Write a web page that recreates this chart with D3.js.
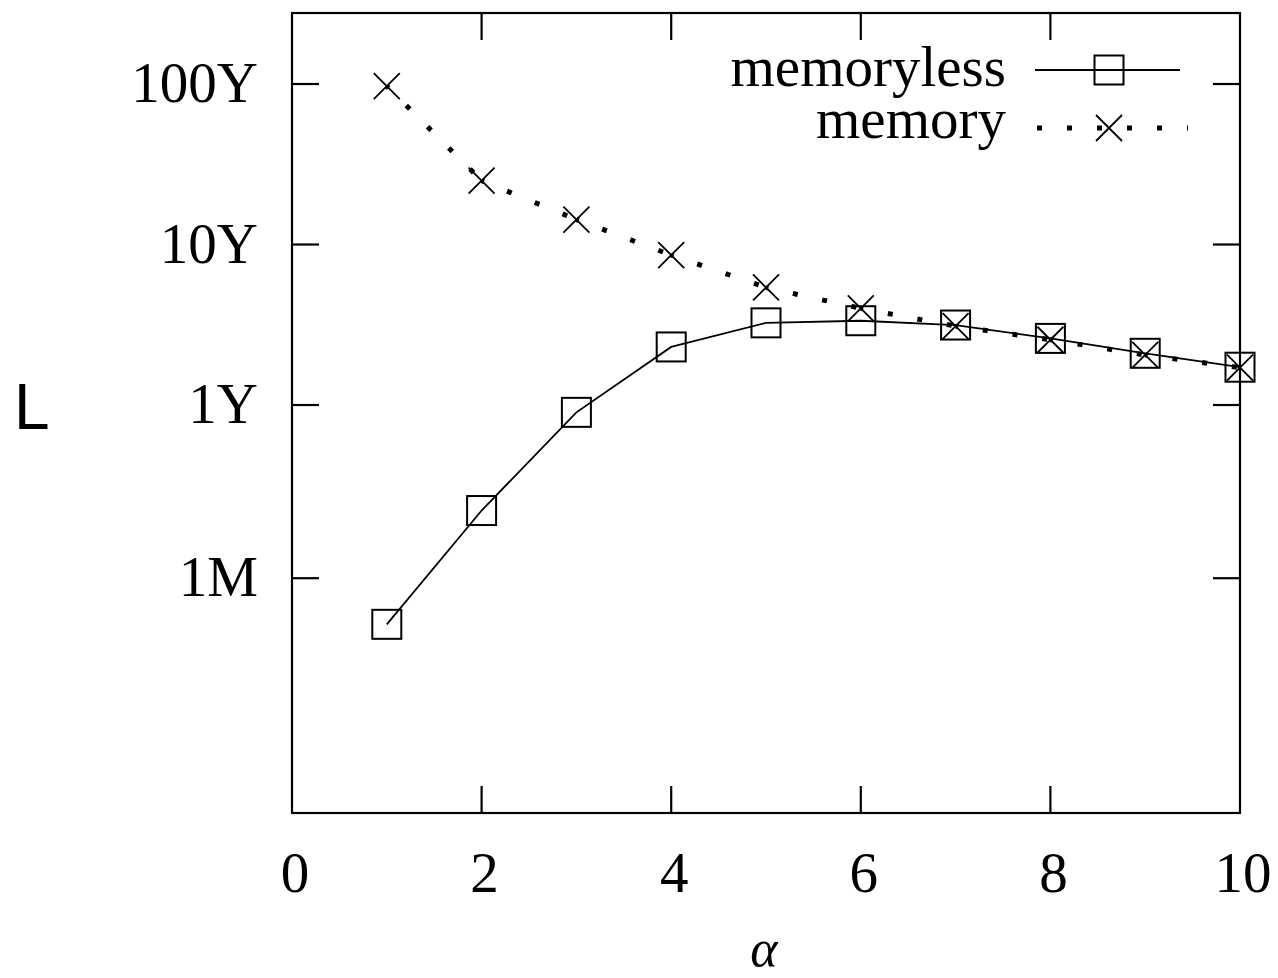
<!DOCTYPE html>
<html>
<head>
<meta charset="utf-8">
<script src="https://cdn.jsdelivr.net/npm/d3@7"></script>
<style>
  body { margin: 0; background: #fff; }
  .lbl { font-family: "Liberation Serif", serif; font-size: 57px; fill: #000; }
</style>
</head>
<body>
<div id="graph"></div>
<script>
const alphas = [1, 2, 3, 4, 5, 6, 7, 8, 9, 10];
// L in years
const memoryless = [0.043, 0.22, 0.90, 2.3, 3.25, 3.35, 3.15, 2.6, 2.1, 1.72];
const memory = [97, 25, 14.3, 8.6, 5.4, 4.0, 3.1, 2.55, 2.05, 1.71];
const xTicks = [0, 2, 4, 6, 8, 10];
const yTicks = [1 / 12, 1, 10, 100];
const yTickLabels = ["1M", "1Y", "10Y", "100Y"];
const seriesNames = ["memoryless", "memory"];

const width = 1278;
const height = 978;
const plotLeft = 292, plotRight = 1240, plotTop = 13, plotBottom = 813;

const x = d3.scaleLinear().domain([0, 10]).range([plotLeft, plotRight]);
const y = d3.scaleLog().domain([0.00287, 277]).range([plotBottom, plotTop]);

const svg = d3.select("#graph").append("svg")
  .attr("width", width)
  .attr("height", height);

// ticks on all four sides (inward)
const tickLen = 27;
svg.append("g")
  .selectAll("line")
  .data(xTicks.slice(1, -1))
  .enter().append("line")
    .attr("x1", d => x(d)).attr("x2", d => x(d))
    .attr("y1", plotBottom).attr("y2", plotBottom - tickLen)
    .attr("stroke", "#000").attr("stroke-width", 2.2);
svg.append("g")
  .selectAll("line")
  .data(xTicks.slice(1, -1))
  .enter().append("line")
    .attr("x1", d => x(d)).attr("x2", d => x(d))
    .attr("y1", plotTop).attr("y2", plotTop + tickLen)
    .attr("stroke", "#000").attr("stroke-width", 2.2);
svg.append("g")
  .selectAll("line")
  .data(yTicks)
  .enter().append("line")
    .attr("x1", plotLeft).attr("x2", plotLeft + tickLen)
    .attr("y1", d => y(d)).attr("y2", d => y(d))
    .attr("stroke", "#000").attr("stroke-width", 2.2);
svg.append("g")
  .selectAll("line")
  .data(yTicks)
  .enter().append("line")
    .attr("x1", plotRight).attr("x2", plotRight - tickLen)
    .attr("y1", d => y(d)).attr("y2", d => y(d))
    .attr("stroke", "#000").attr("stroke-width", 2.2);

svg.append("rect")
  .attr("x", plotLeft).attr("y", plotTop)
  .attr("width", plotRight - plotLeft).attr("height", plotBottom - plotTop)
  .attr("fill", "none").attr("stroke", "#000").attr("stroke-width", 2.2);

// tick labels
svg.append("g")
  .selectAll("text")
  .data(xTicks)
  .enter().append("text")
    .attr("class", "lbl")
    .attr("x", d => x(d) + 3)
    .attr("y", 892)
    .attr("text-anchor", "middle")
    .text(d => d);
svg.append("g")
  .selectAll("text")
  .data(yTicks)
  .enter().append("text")
    .attr("class", "lbl")
    .attr("x", plotLeft - 34)
    .attr("y", d => y(d) + 18)
    .attr("text-anchor", "end")
    .text((d, i) => yTickLabels[i]);

// axis titles
svg.append("text")
  .attr("class", "lbl")
  .attr("x", 764)
  .attr("y", 966)
  .attr("text-anchor", "middle")
  .style("font-style", "italic")
  .style("font-size", "52px")
  .text("α");
svg.append("text")
  .attr("x", 14)
  .attr("y", 429)
  .style("font-family", "Liberation Sans, Arial, sans-serif")
  .style("font-size", "64px")
  .text("L");

// markers
function square(g, cx, cy) {
  g.append("rect")
    .attr("x", cx - 14.5).attr("y", cy - 14.5)
    .attr("width", 29).attr("height", 29)
    .attr("fill", "none").attr("stroke", "#000").attr("stroke-width", 2);
}
function cross(g, cx, cy) {
  g.append("path")
    .attr("d", `M${cx - 13},${cy - 13}L${cx + 13},${cy + 13}M${cx - 13},${cy + 13}L${cx + 13},${cy - 13}`)
    .attr("stroke", "#000").attr("stroke-width", 1.8).attr("fill", "none");
}

const line = d3.line().x((d, i) => x(alphas[i])).y(d => y(d));

// memoryless
svg.append("path")
  .datum(memoryless)
  .attr("d", line)
  .attr("fill", "none").attr("stroke", "#000").attr("stroke-width", 1.8);
const mlMarks = svg.append("g");
memoryless.forEach((v, i) => square(mlMarks, x(alphas[i]), y(v)));

// memory: dotted, pattern restarts at every point
const memPts = memory.map((v, i) => [x(alphas[i]), y(v)]);
svg.append("g")
  .selectAll("line")
  .data(d3.pairs(memPts))
  .enter().append("line")
    .attr("x1", d => d[0][0]).attr("y1", d => d[0][1])
    .attr("x2", d => d[1][0]).attr("y2", d => d[1][1])
    .attr("stroke", "#000").attr("stroke-width", 5)
    .attr("stroke-dasharray", "5,25")
    .attr("stroke-dashoffset", 2.5);
const mMarks = svg.append("g");
memPts.forEach(p => cross(mMarks, p[0], p[1]));

// legend (one text block, one line per series)
const legend = svg.append("g");
legend.append("text")
  .attr("class", "lbl")
  .attr("text-anchor", "end")
  .selectAll("tspan")
  .data(seriesNames)
  .enter().append("tspan")
    .attr("x", 1006)
    .attr("y", (d, i) => 86 + i * 52)
    .text(d => d);
legend.append("line")
  .attr("x1", 1035).attr("x2", 1180)
  .attr("y1", 70).attr("y2", 70)
  .attr("stroke", "#000").attr("stroke-width", 2);
square(legend, 1109, 70);
legend.append("line")
  .attr("x1", 1037).attr("x2", 1188)
  .attr("y1", 128).attr("y2", 128)
  .attr("stroke", "#000").attr("stroke-width", 5)
  .attr("stroke-dasharray", "5,25");
cross(legend, 1109, 128);
</script>
</body>
</html>
